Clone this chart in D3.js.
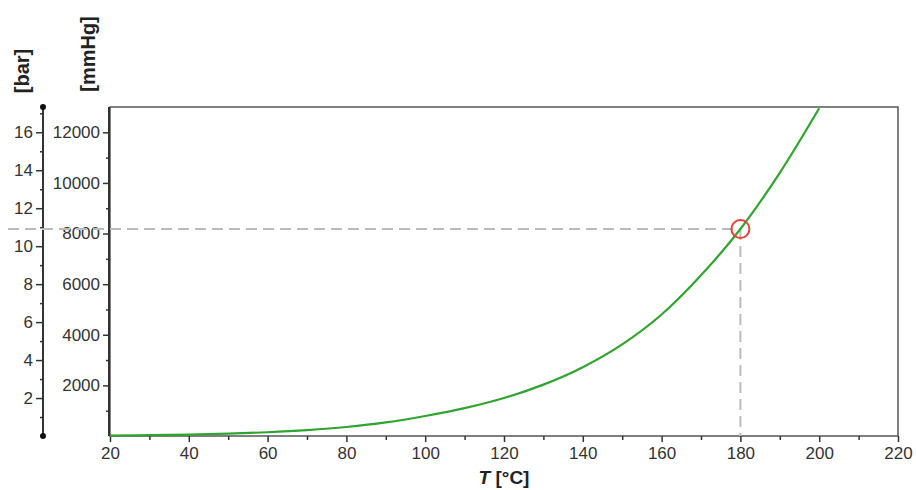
<!DOCTYPE html>
<html>
<head>
<meta charset="utf-8">
<script src="https://cdn.jsdelivr.net/npm/d3@7"></script>
<style>
  body { margin: 0; background: #fff; }
  text { font-family: "Liberation Sans", Arial, sans-serif; }
</style>
</head>
<body>
<svg id="chart" width="916" height="490"></svg>
<script>
'use strict';

// vapour pressure curve (T in °C, p in mmHg)
const temps = [20, 30, 40, 50, 60, 70, 80, 90, 100, 110, 120, 130, 140, 150, 160, 170, 180, 190, 200];
const pressures = [17, 32, 55, 92, 149, 233, 355, 535, 790, 1100, 1500, 2030, 2720, 3620, 4800, 6350, 8180, 10400, 12950];

// marked point
const markT = 180;
const markP = 8180;

// ticks
const xTicks = [20, 40, 60, 80, 100, 120, 140, 160, 180, 200, 220];
const xMinor = [30, 50, 70, 90, 110, 130, 150, 170, 190, 210];
const mmTicks = [2000, 4000, 6000, 8000, 10000, 12000];
const mmMinor = [1000, 3000, 5000, 7000, 9000, 11000];
const barTicks = [2, 4, 6, 8, 10, 12, 14, 16];
const barMinor = [1, 3, 5, 7, 9, 11, 13, 15, 17];

const MMHG_PER_BAR = 750.06;
const P_MAX = 13000;

const svg = d3.select('#chart');

const plotLeft = 110, plotRight = 898, plotTop = 107, plotBottom = 436;

const x = d3.scaleLinear().domain([20, 220]).range([plotLeft, plotRight]);
const yMm = d3.scaleLinear().domain([0, P_MAX]).range([plotBottom, plotTop]);
const yBar = d3.scaleLinear().domain([0, P_MAX / MMHG_PER_BAR]).range([plotBottom, plotTop]);

// frame
svg.append('rect')
  .attr('x', plotLeft).attr('y', plotTop)
  .attr('width', plotRight - plotLeft).attr('height', plotBottom - plotTop)
  .attr('fill', 'none')
  .attr('stroke', '#555')
  .attr('stroke-width', 1.5);

// helper for styling axes
const styleAxis = (g) => {
  g.select('.domain').remove();
  g.selectAll('line').attr('stroke', '#333').attr('stroke-width', 1.5);
  g.selectAll('text').attr('fill', '#333').style('font-size', '17px');
};

// x axis
svg.append('g')
  .attr('transform', `translate(0,${plotBottom})`)
  .call(d3.axisBottom(x).tickValues(xTicks).tickSize(6).tickPadding(5).tickFormat(d3.format('d')))
  .call(styleAxis);
svg.append('g')
  .attr('transform', `translate(0,${plotBottom})`)
  .call(d3.axisBottom(x).tickValues(xMinor).tickSize(4).tickFormat(''))
  .call(styleAxis);

// mmHg axis
svg.append('g')
  .attr('transform', `translate(${plotLeft - 1},0)`)
  .call(d3.axisLeft(yMm).tickValues(mmTicks).tickSize(6).tickPadding(3).tickFormat(d3.format('d')))
  .call(styleAxis);
svg.append('g')
  .attr('transform', `translate(${plotLeft - 1},0)`)
  .call(d3.axisLeft(yMm).tickValues(mmMinor).tickSize(3).tickFormat(''))
  .call(styleAxis);
svg.append('line')
  .attr('x1', plotLeft - 1).attr('x2', plotLeft - 1)
  .attr('y1', plotTop).attr('y2', plotBottom)
  .attr('stroke', '#333').attr('stroke-width', 2);

// bar axis
const barX = 43;
svg.append('g')
  .attr('transform', `translate(${barX},0)`)
  .call(d3.axisLeft(yBar).tickValues(barTicks).tickSize(7).tickPadding(3).tickFormat(d3.format('d')))
  .call(styleAxis);
svg.append('g')
  .attr('transform', `translate(${barX},0)`)
  .call(d3.axisLeft(yBar).tickValues(barMinor).tickSize(3).tickFormat(''))
  .call(styleAxis);
svg.append('line')
  .attr('x1', barX).attr('x2', barX)
  .attr('y1', plotTop + 1).attr('y2', plotBottom)
  .attr('stroke', '#333').attr('stroke-width', 2);
svg.selectAll('circle.end')
  .data([0, P_MAX / MMHG_PER_BAR])
  .enter()
  .append('circle')
  .attr('class', 'end')
  .attr('cx', barX)
  .attr('cy', d => yBar(d))
  .attr('r', 3)
  .attr('fill', '#111');

// dashed guide lines to the marked point
svg.append('line')
  .attr('x1', 8).attr('x2', x(markT))
  .attr('y1', yMm(markP)).attr('y2', yMm(markP))
  .attr('stroke', '#bbb').attr('stroke-width', 2)
  .attr('stroke-dasharray', '11,6');
svg.append('line')
  .attr('x1', x(markT)).attr('x2', x(markT))
  .attr('y1', yMm(markP)).attr('y2', plotBottom)
  .attr('stroke', '#bbb').attr('stroke-width', 2)
  .attr('stroke-dasharray', '11,6');

// curve
const curve = temps.map((t, i) => [t, pressures[i]]);
const line = d3.line()
  .curve(d3.curveMonotoneX)
  .x(d => x(d[0]))
  .y(d => yMm(d[1]));

svg.append('path')
  .datum(curve)
  .attr('d', line)
  .attr('fill', 'none')
  .attr('stroke', '#2fa52f')
  .attr('stroke-width', 2.2);

// marker circle
svg.append('circle')
  .attr('cx', x(markT))
  .attr('cy', yMm(markP))
  .attr('r', 9)
  .attr('fill', 'none')
  .attr('stroke', '#e8403a')
  .attr('stroke-width', 2);

// axis titles
const xTitle = svg.append('text')
  .attr('x', (plotLeft + plotRight) / 2)
  .attr('y', 484)
  .attr('text-anchor', 'middle')
  .attr('fill', '#222')
  .style('font-size', '19px')
  .style('font-weight', 'bold');
xTitle.append('tspan').style('font-style', 'italic').text('T');
xTitle.append('tspan').text(' [°C]');

svg.append('text')
  .attr('transform', 'translate(29,71) rotate(-90)')
  .attr('text-anchor', 'middle')
  .attr('fill', '#222')
  .style('font-size', '20px')
  .style('font-weight', 'bold')
  .text('[bar]');

svg.append('text')
  .attr('transform', 'translate(95,54) rotate(-90)')
  .attr('text-anchor', 'middle')
  .attr('fill', '#222')
  .style('font-size', '20px')
  .style('font-weight', 'bold')
  .text('[mmHg]');
</script>
</body>
</html>
